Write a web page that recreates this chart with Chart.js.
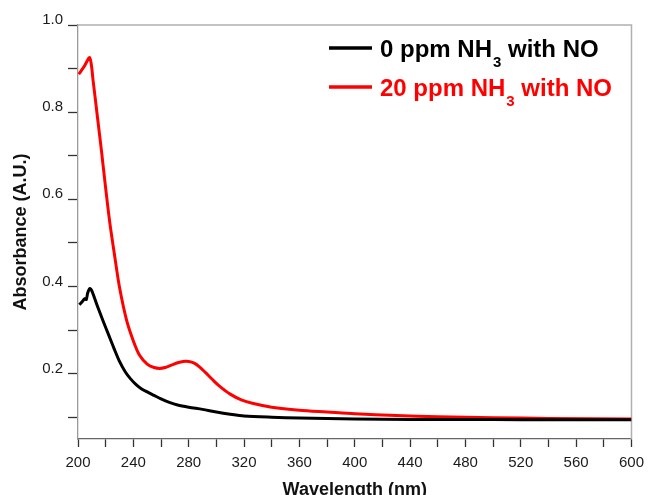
<!DOCTYPE html>
<html>
<head>
<meta charset="utf-8">
<title>Absorbance spectra</title>
<script src="https://cdn.jsdelivr.net/npm/chart.js@4.4.1/dist/chart.umd.min.js"></script>
<style>
  html, body { margin: 0; padding: 0; background: #fff; }
  #spectra { display: block; }
</style>
</head>
<body>
<canvas id="spectra" width="651" height="495"></canvas>
<script>
(function(){
    'use strict';

    // 0 ppm NH3 with NO
    const nm0 = [201, 203, 205, 206, 207, 208.5, 210, 214, 218, 222, 226, 230, 234, 238, 242, 246, 250, 255, 260, 266, 272, 280, 290, 300, 310, 320, 340, 360, 400, 440, 480, 520, 560, 600];
    const abs0 = [0.358, 0.365, 0.372, 0.37, 0.385, 0.395, 0.39, 0.355, 0.322, 0.29, 0.258, 0.228, 0.205, 0.188, 0.175, 0.165, 0.158, 0.15, 0.142, 0.134, 0.128, 0.123, 0.118, 0.112, 0.107, 0.103, 0.1, 0.098, 0.096, 0.095, 0.095, 0.094, 0.094, 0.094];

    // 20 ppm NH3 with NO
    const nm20 = [200.5, 204.5, 208.5, 211, 214, 217, 220, 223, 226.5, 230, 235, 240, 244.5, 250, 255, 259, 263, 268, 272, 276, 280, 284, 288, 292, 297, 302, 310, 318, 326, 340, 360, 380, 400, 430, 460, 500, 540, 600];
    const abs20 = [0.887, 0.905, 0.925, 0.87, 0.79, 0.71, 0.625, 0.546, 0.47, 0.398, 0.324, 0.275, 0.242, 0.222, 0.214, 0.212, 0.214, 0.22, 0.225, 0.228, 0.228, 0.224, 0.215, 0.203, 0.187, 0.172, 0.153, 0.14, 0.132, 0.123, 0.116, 0.112, 0.108, 0.104, 0.101, 0.099, 0.097, 0.096];

    const seriesNames = ['0 ppm NH3 with NO', '20 ppm NH3 with NO'];
    const seriesColors = ['#000000', '#ff0000'];

    const xTicks = [200, 220, 240, 260, 280, 300, 320, 340, 360, 380, 400, 420, 440, 460, 480, 500, 520, 540, 560, 580, 600];
    const xLabels = [200, 240, 280, 320, 360, 400, 440, 480, 520, 560, 600];
    const yTicks = [0.1, 0.2, 0.3, 0.4, 0.5, 0.6, 0.7, 0.8, 0.9, 1.0];
    const yLabels = [0.2, 0.4, 0.6, 0.8, 1.0];

    const FONT = '"Liberation Sans", Arial, Helvetica, sans-serif';
    Chart.defaults.font.family = FONT;

    const toPoints = (xs, ys) => xs.map((x, i) => ({x: x, y: ys[i]}));
    const near = (list, v) => list.some(l => Math.abs(l - v) < 1e-6);

    // text like "NH3" gets the digit after NH drawn as a subscript
    function drawFormula(ctx, text, x, y, size) {
        const parts = text.split(/(?<=NH)(\d)/);
        parts.forEach((part, i) => {
            if (i % 2 === 1) {
                ctx.font = 'bold ' + Math.round(size * 0.62) + 'px ' + FONT;
                ctx.fillText(part, x + 1, y + size * 0.42);
                x += ctx.measureText(part).width + 1;
            } else {
                ctx.font = 'bold ' + size + 'px ' + FONT;
                ctx.fillText(part, x, y);
                x += ctx.measureText(part).width;
            }
        });
    }

    const frameAndLegend = {
        id: 'frameAndLegend',
        beforeDatasetsDraw(chart) {
            const {ctx, chartArea: a} = chart;
            ctx.save();
            ctx.strokeStyle = '#b0b0b0';
            ctx.lineWidth = 1.5;
            ctx.beginPath();
            ctx.moveTo(a.left, a.top);
            ctx.lineTo(a.right, a.top);
            ctx.lineTo(a.right, a.bottom);
            ctx.stroke();
            ctx.restore();
        },
        afterDraw(chart) {
            const ctx = chart.ctx;
            const rows = [48, 87];
            ctx.save();
            ctx.textBaseline = 'alphabetic';
            chart.data.datasets.forEach((ds, i) => {
                const y = rows[i];
                ctx.strokeStyle = ds.borderColor;
                ctx.lineWidth = 3.5;
                ctx.beginPath();
                ctx.moveTo(329, y);
                ctx.lineTo(372, y);
                ctx.stroke();
                ctx.fillStyle = ds.borderColor;
                drawFormula(ctx, ds.label, 380, y + 8.5, 24);
            });
            ctx.restore();
        }
    };

    new Chart(document.getElementById('spectra'), {
        type: 'line',
        data: {
            datasets: [
                { label: seriesNames[0], data: toPoints(nm0, abs0), borderColor: seriesColors[0], borderWidth: 3, pointRadius: 0, tension: 0.3 },
                { label: seriesNames[1], data: toPoints(nm20, abs20), borderColor: seriesColors[1], borderWidth: 3, pointRadius: 0, tension: 0.3 }
            ]
        },
        options: {
            responsive: false,
            animation: false,
            layout: { padding: { top: 25, right: 16, left: 0, bottom: 0 } },
            plugins: { legend: { display: false }, tooltip: { enabled: false } },
            scales: {
                x: {
                    type: 'linear',
                    min: 200,
                    max: 600,
                    afterBuildTicks: s => { s.ticks = xTicks.map(v => ({value: v})); },
                    afterFit: s => { s.height = 56; },
                    grid: { drawOnChartArea: false, drawTicks: true, tickLength: 8, tickColor: '#333', tickWidth: 1.3 },
                    border: { color: '#666', width: 1.3 },
                    ticks: {
                        autoSkip: false, maxRotation: 0, padding: 7, color: '#1a1a1a',
                        font: { size: 15 },
                        callback: v => near(xLabels, v) ? String(v) : ''
                    },
                    title: { display: true, text: 'Wavelength (nm)', color: '#111', font: { size: 18, weight: 'bold' }, padding: { top: 0, bottom: -6 } }
                },
                y: {
                    min: 0.05,
                    max: 1.0,
                    afterBuildTicks: s => { s.ticks = yTicks.map(v => ({value: v})); },
                    afterFit: s => { s.width = 78; },
                    grid: { drawOnChartArea: false, drawTicks: true, tickLength: 10, tickColor: '#333', tickWidth: 1.3 },
                    border: { color: '#999', width: 1.3 },
                    ticks: {
                        autoSkip: false, padding: 5, color: '#1a1a1a', labelOffset: -5,
                        font: { size: 15 },
                        callback: v => near(yLabels, v) ? v.toFixed(1) : ''
                    },
                    title: { display: true, text: 'Absorbance (A.U.)', color: '#111', font: { size: 18, weight: 'bold' }, padding: { top: 10, bottom: 0 } }
                }
            }
        },
        plugins: [frameAndLegend]
    });

})();
</script>
</body>
</html>
